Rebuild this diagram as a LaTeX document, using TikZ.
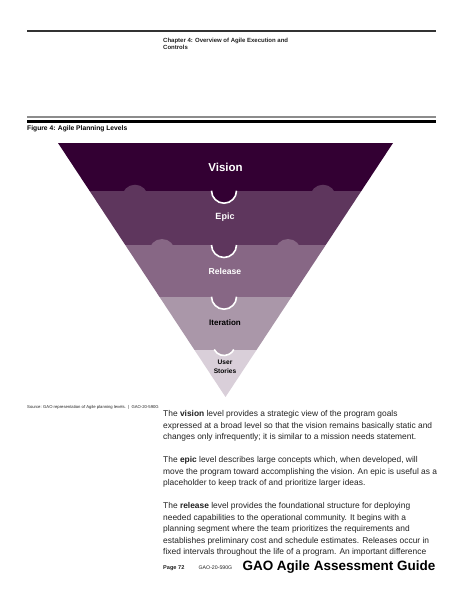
\documentclass[tikz,border=0pt]{standalone}
\usepackage{fontspec}
\setmainfont{Liberation Sans}
\usepackage{tikz}
\usetikzlibrary{positioning}
\usepackage{xcolor}

\definecolor{visioncol}{HTML}{330033}
\definecolor{epiccol}{HTML}{5E365D}
\definecolor{releasecol}{HTML}{876785}
\definecolor{iterationcol}{HTML}{AA97A9}
\definecolor{storycol}{HTML}{D9CFD9}
\definecolor{bodytext}{HTML}{222222}

\begin{document}
\begin{tikzpicture}[
    x=1pt, y=-1pt,
    level/.style={inner sep=0pt, align=center, font=\bfseries},
    smalltext/.style={inner sep=0pt, anchor=west, text=bodytext},
    para/.style={inner sep=0pt, anchor=north west, align=left, text=bodytext, font=\fontsize{8.4}{11.5}\selectfont},
    rim/.style={draw=white, line width=1.6pt},
]

\useasboundingbox[fill=white] (0,0) rectangle (463,599);

% Header
\fill[black!80] (27,30.4) rectangle (436,31.8);
\node[inner sep=0pt, anchor=north west, align=left, font=\fontsize{6}{7.8}\selectfont\bfseries, text=bodytext] (chapter) at (163,37.5) {Chapter 4: Overview of Agile Execution and\\Controls};

\fill[black!45] (27,116.4) rectangle (436,117.8);
\fill[black] (27,119.6) rectangle (436,123.2);
\node[smalltext, font=\fontsize{6.7}{8}\selectfont\bfseries, text=black] (figtitle) at (27,129) {Figure 4: Agile Planning Levels};

% Levels
\begin{scope}
\clip (58,143) -- (393,143) -- (225.5,397) -- cycle;
\fill[visioncol] (0,143) rectangle (463,190.7);
\fill[epiccol] (0,190.7) rectangle (463,245);
\fill[epiccol] (135,197.7) circle (13);
\fill[epiccol] (323,197.7) circle (13);
\fill[visioncol] (211.5,190.7) arc (180:0:12.5) -- cycle;
\draw[rim] (211.5,190.7) arc (180:0:12.5);

\fill[releasecol] (0,245) rectangle (463,296.7);
\fill[releasecol] (162,252) circle (13);
\fill[releasecol] (288,252) circle (13);
\fill[epiccol] (211.5,245) arc (180:0:12.5) -- cycle;
\draw[rim] (211.5,245) arc (180:0:12.5);

\fill[iterationcol] (0,296.7) rectangle (463,349.5);
\fill[releasecol] (211.5,296.7) arc (180:0:12.5) -- cycle;
\draw[rim] (211.5,296.7) arc (180:0:12.5);

\fill[storycol] (0,349.5) rectangle (463,397);
\fill[iterationcol] (224,344.5) circle (11);
\draw[rim] (224,344.5) ++(153:11) arc (153:27:11);
\end{scope}

\node[level, text=white, font=\fontsize{11.5}{13}\selectfont\bfseries] (vision) at (225.5,167) {Vision};
\node[level, text=white, font=\fontsize{9}{11}\selectfont\bfseries] (epic) at (225,217) {Epic};
\node[level, text=white, font=\fontsize{8.6}{10}\selectfont\bfseries] (release) at (225,271) {Release};
\node[level, text=black, font=\fontsize{8}{10}\selectfont\bfseries] (iteration) at (225,323) {Iteration};
\node[level, text=black, font=\fontsize{6.6}{8.6}\selectfont\bfseries] (stories) at (225,366.5) {User\\Stories};

% Source
\node[smalltext, font=\fontsize{4.2}{5}\selectfont] (source) at (27,407.5) {Source: GAO representation of Agile planning levels.\ \ |\ \ GAO-20-590G};

% Body text
\node[para] (parvision) at (163,410.5) {The \textbf{vision} level provides a strategic view of the program goals\\expressed at a broad level so that the vision remains basically static and\\changes only infrequently; it is similar to a mission needs statement.};
\node[para] (parepic) at (163,456.5) {The \textbf{epic} level describes large concepts which, when developed, will\\move the program toward accomplishing the vision. An epic is useful as a\\placeholder to keep track of and prioritize larger ideas.};
\node[para] (parrelease) at (163,502.5) {The \textbf{release} level provides the foundational structure for deploying\\needed capabilities to the operational community. It begins with a\\planning segment where the team prioritizes the requirements and\\establishes preliminary cost and schedule estimates. Releases occur in\\fixed intervals throughout the life of a program. An important difference};

% Footer
\node[smalltext, font=\fontsize{5.6}{6}\selectfont\bfseries] (page) at (163,568) {Page 72};
\node[smalltext, font=\fontsize{5.2}{6}\selectfont] (docnum) at (198.5,568) {GAO-20-590G};
\node[inner sep=0pt, anchor=east, font=\fontsize{13.5}{15}\selectfont\bfseries, text=black] (guide) at (435.5,567) {GAO Agile Assessment Guide};

\end{tikzpicture}
\end{document}
